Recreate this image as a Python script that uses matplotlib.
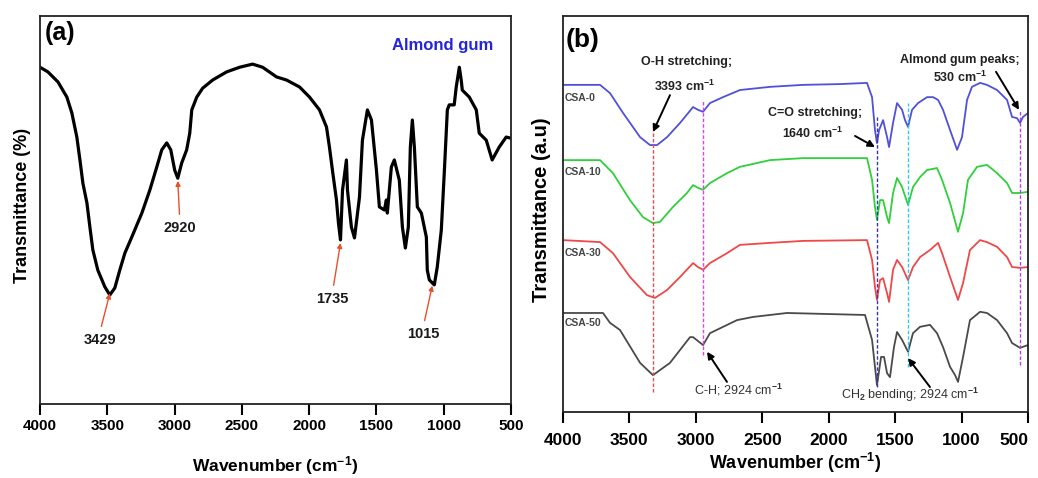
import matplotlib
matplotlib.use("Agg")
import matplotlib.pyplot as plt

plt.rcParams["font.family"] = ["Liberation Sans", "DejaVu Sans"]
plt.rcParams["mathtext.fontset"] = "custom"
plt.rcParams["mathtext.rm"] = "Liberation Sans"
plt.rcParams["mathtext.bf"] = "Liberation Sans:bold"
plt.rcParams["mathtext.it"] = "Liberation Sans:italic"
plt.rcParams["mathtext.default"] = "bf"

# ---- panel (a): almond gum spectrum ----
gum_wn = [4000, 3941, 3866, 3800, 3763, 3726, 3703, 3681, 3651, 3629, 3607, 3570,
          3518, 3481, 3444, 3407, 3369, 3318, 3243, 3184, 3132, 3095, 3058, 3028,
          2999, 2976, 2947, 2910, 2887, 2872, 2835, 2791, 2717, 2613, 2516, 2420,
          2346, 2242, 2168, 2071, 1997, 1923, 1871, 1849, 1827, 1797, 1782, 1767,
          1752, 1723, 1715, 1686, 1663, 1626, 1604, 1567, 1537, 1500, 1478, 1441,
          1426, 1419, 1389, 1367, 1330, 1307, 1285, 1263, 1248, 1233, 1218, 1196,
          1166, 1129, 1122, 1107, 1070, 1048, 1018, 996, 973, 959, 922, 907, 884,
          870, 862, 810, 758, 736, 684, 640, 588, 536, 499]
gum_t = [86.8, 85.6, 83.0, 79.1, 75.0, 68.8, 62.9, 56.9, 51.8, 45.6, 39.7, 34.5,
         30.2, 28.1, 29.9, 34.5, 38.9, 43.0, 49.2, 55.1, 61.1, 65.5, 67.3, 65.5,
         60.3, 58.2, 62.1, 65.5, 69.8, 75.8, 79.1, 81.4, 83.5, 85.6, 86.8, 87.6,
         86.8, 84.3, 83.5, 81.7, 79.1, 75.8, 71.4, 66.2, 60.3, 52.6, 46.6, 42.3,
         55.1, 62.9, 55.1, 45.6, 42.8, 53.3, 68.0, 75.8, 73.2, 60.3, 50.8, 50.0,
         52.6, 49.2, 61.1, 62.9, 57.7, 45.6, 40.2, 45.6, 66.2, 73.2, 66.2, 50.8,
         49.2, 43.0, 34.5, 32.0, 30.7, 35.3, 44.8, 59.5, 75.8, 77.1, 77.1, 81.7,
         86.8, 83.5, 80.9, 79.1, 75.8, 69.8, 68.0, 62.9, 66.2, 68.8, 68.5]

gum_peak_labels = ["3429", "2920", "1735", "1015"]
gum_peak_wn = [3481, 2976, 1767, 1085]
gum_peak_t = [28.5, 57.5, 41.5, 30.5]
gum_label_wn = [3555, 2961, 1827, 1152]
gum_label_t = [16.5, 45.4, 27.1, 18.0]

# ---- panel (b): composite films ----
csa0_wn = [4000, 3721, 3646, 3548, 3420, 3345, 3292, 3217, 3119, 3021, 2984, 2946,
           2894, 2796, 2668, 2442, 2194, 1915, 1712, 1674, 1652, 1637, 1621, 1591,
           1561, 1546, 1516, 1486, 1448, 1426, 1403, 1373, 1328, 1260, 1215, 1177,
           1140, 1087, 1034, 997, 959, 922, 861, 809, 733, 658, 620, 583, 560, 538, 500]
csa0_t = [82.6, 82.6, 80.5, 75.5, 69.4, 67.4, 67.4, 69.4, 73.0, 77.0, 76.3, 75.8,
          78.0, 79.5, 81.3, 82.1, 82.6, 82.8, 83.1, 79.5, 71.2, 67.9, 71.2, 73.7,
          69.4, 66.9, 73.0, 78.0, 76.3, 73.7, 72.0, 76.3, 78.0, 79.5, 79.5, 78.8,
          76.3, 71.2, 66.2, 69.4, 78.8, 82.1, 83.1, 82.6, 81.3, 78.8, 74.5, 74.2,
          73.0, 74.5, 75.5]

csa10_wn = [4000, 3721, 3624, 3496, 3398, 3323, 3270, 3172, 3067, 3021, 2984, 2946,
            2894, 2766, 2668, 2442, 2194, 1712, 1674, 1652, 1637, 1614, 1591, 1561,
            1546, 1516, 1486, 1448, 1403, 1366, 1313, 1260, 1185, 1147, 1087, 1027,
            989, 952, 884, 809, 733, 658, 620, 560, 500]
csa10_t = [63.6, 63.6, 60.3, 53.5, 49.2, 47.7, 48.0, 51.8, 55.3, 57.3, 56.6, 56.1,
           57.8, 60.3, 61.9, 63.6, 64.1, 64.1, 58.6, 51.8, 48.5, 53.5, 53.5, 49.2,
           47.7, 55.3, 59.1, 56.8, 52.3, 56.8, 59.3, 61.1, 61.6, 58.6, 52.8, 45.5,
           50.2, 58.6, 61.9, 62.4, 60.3, 57.8, 55.3, 55.3, 55.6]

csa30_wn = [4000, 3721, 3624, 3496, 3368, 3308, 3217, 3119, 3021, 2984, 2946, 2894,
            2766, 2668, 2442, 2194, 1712, 1674, 1652, 1637, 1614, 1591, 1561, 1546,
            1516, 1486, 1448, 1403, 1366, 1313, 1238, 1177, 1147, 1087, 1027, 989,
            937, 861, 809, 733, 658, 620, 560, 500]
csa30_t = [43.4, 42.9, 40.1, 34.1, 29.5, 28.8, 30.8, 34.1, 37.6, 36.6, 35.9, 37.6,
           40.1, 42.2, 42.7, 43.2, 43.4, 38.4, 31.6, 28.3, 33.3, 33.8, 30.0, 27.8,
           35.9, 38.4, 36.6, 33.3, 36.6, 39.1, 40.9, 42.7, 40.1, 34.1, 28.3, 32.6,
           40.9, 43.4, 42.9, 41.7, 39.1, 36.6, 36.4, 36.6]

csa50_wn = [4000, 3699, 3646, 3571, 3420, 3323, 3195, 3044, 3021, 2946, 2894, 2690,
            2570, 2314, 1727, 1674, 1652, 1637, 1606, 1584, 1561, 1539, 1509, 1486,
            1448, 1403, 1366, 1313, 1238, 1185, 1140, 1087, 1049, 1027, 989, 937,
            861, 809, 733, 658, 620, 560, 500]
csa50_t = [25.0, 25.0, 22.5, 20.7, 12.4, 9.3, 12.4, 18.9, 18.9, 16.9, 19.9, 23.2,
           24.0, 25.0, 24.5, 18.2, 11.4, 6.8, 13.9, 13.9, 9.8, 8.8, 16.4, 20.2,
           18.2, 15.2, 19.9, 21.5, 22.0, 19.9, 16.4, 11.4, 9.3, 7.6, 13.9, 23.2,
           25.3, 25.0, 23.2, 19.9, 17.4, 16.2, 16.9]

series_names = ["CSA-0", "CSA-10", "CSA-30", "CSA-50"]
series_colors = ["#5050d8", "#2fd03c", "#ee4848", "#4a4a4a"]
series_label_t = [79.3, 60.6, 40.1, 22.5]

# marker lines: position, top, bottom, colour
marker_wn = [3323, 2946, 1637, 1403, 560]
marker_top = [71.2, 78.8, 74.5, 78.0, 76.3]
marker_bottom = [5.1, 14.4, 6.3, 11.4, 11.9]
marker_colors = ["#e05050", "#e040e8", "#3535a8", "#30c8e8", "#b040e0"]

fig = plt.figure(figsize=(10.38, 4.78), dpi=100)
ax_a = fig.add_axes([0.0385, 0.1548, 0.4538, 0.8117])
ax_b = fig.add_axes([0.5424, 0.1381, 0.448, 0.8285])

for ax in (ax_a, ax_b):
    ax.set_xlim(4000, 500)
    ax.set_ylim(0, 100)
    ax.set_yticks([])
    ax.set_xticks([4000, 3500, 3000, 2500, 2000, 1500, 1000, 500])
    for sp in ax.spines.values():
        sp.set_linewidth(1.3)
        sp.set_color("#222222")

# panel (a)
ax_a.plot(gum_wn, gum_t, color="black", lw=2.3)
ax_a.tick_params(axis="x", direction="out", length=8, width=1.5, pad=3,
                 labelsize=11)
for lbl in ax_a.get_xticklabels():
    lbl.set_fontweight("bold")
ax_a.set_xlabel("Wavenumber (cm$^{-1}$)", fontsize=12.5, fontweight="bold")
ax_a.xaxis.set_label_coords(0.5, -0.128)
ax_a.set_ylabel("Transmittance (%)", fontsize=13, fontweight="bold")
ax_a.yaxis.set_label_coords(-0.02, 0.513)
ax_a.text(3963, 95.6, "(a)", fontsize=18, fontweight="bold", ha="left", va="center")
ax_a.text(1010, 92.5, "Almond gum", fontsize=12, fontweight="bold",
          color="#2424d8", ha="center", va="center")
for lab, px, pt, lx, lt in zip(gum_peak_labels, gum_peak_wn, gum_peak_t,
                               gum_label_wn, gum_label_t):
    ax_a.annotate("", xy=(px, pt), xytext=(lx + (px - lx) * 0.15, lt + 3.5),
                  arrowprops=dict(arrowstyle="-|>", color="#e8502a", lw=1.0,
                                  mutation_scale=7, shrinkA=0, shrinkB=0))
    ax_a.text(lx, lt, lab, fontsize=10.5, fontweight="bold", ha="center",
              va="center", color="#1a1a1a")

# panel (b)
for wn, t, c in zip([csa0_wn, csa10_wn, csa30_wn, csa50_wn],
                    [csa0_t, csa10_t, csa30_t, csa50_t], series_colors):
    ax_b.plot(wn, t, color=c, lw=1.3)
for name, lt in zip(series_names, series_label_t):
    ax_b.text(3985, lt, name, fontsize=7.5, fontweight="bold", color="#444444",
              ha="left", va="center")
for mw, top, bot, c in zip(marker_wn, marker_top, marker_bottom, marker_colors):
    ax_b.plot([mw, mw], [bot, top], color=c, lw=1.0, ls=(0, (2.5, 1.5)))

ax_b.tick_params(axis="x", direction="out", length=8, width=1.5, pad=7,
                 labelsize=12.5)
for lbl in ax_b.get_xticklabels():
    lbl.set_fontweight("bold")
ax_b.get_xticklabels()[-1].set_horizontalalignment("right")
ax_b.set_xlabel("Wavenumber (cm$^{-1}$)", fontsize=13, fontweight="bold")
ax_b.xaxis.set_label_coords(0.5, -0.098)
ax_b.set_ylabel("Transmittance (a.u)", fontsize=14.5, fontweight="bold")
ax_b.yaxis.set_label_coords(-0.026, 0.51)
ax_b.text(3977, 94.0, "(b)", fontsize=19, fontweight="bold", ha="left", va="center")

arrow_kw = dict(arrowstyle="-|>", color="black", lw=1.4, mutation_scale=10,
                shrinkA=0, shrinkB=0)
ax_b.text(3067, 88.4, "O-H stretching;", fontsize=9, fontweight="bold",
          ha="center", va="center", color="#222222")
ax_b.text(3082, 82.1, "3393 cm$^{-1}$", fontsize=9, fontweight="bold",
          ha="center", va="center", color="#222222")
ax_b.annotate("", xy=(3323, 70.7), xytext=(3195, 80.0), arrowprops=arrow_kw)

ax_b.text(2103, 75.5, "C=O stretching;", fontsize=9, fontweight="bold",
          ha="center", va="center", color="#222222")
ax_b.text(2118, 70.4, "1640 cm$^{-1}$", fontsize=9, fontweight="bold",
          ha="center", va="center", color="#222222")
ax_b.annotate("", xy=(1652, 66.9), xytext=(1802, 69.7), arrowprops=arrow_kw)

ax_b.text(1012, 88.9, "Almond gum peaks;", fontsize=9, fontweight="bold",
          ha="center", va="center", color="#222222")
ax_b.text(1012, 84.6, "530 cm$^{-1}$", fontsize=9, fontweight="bold",
          ha="center", va="center", color="#222222")
ax_b.annotate("", xy=(568, 76.3), xytext=(741, 85.9), arrowprops=arrow_kw)

ax_b.text(2683, 5.6, "C-H; 2924 cm$^{-1}$", fontsize=9, ha="center", va="center",
          color="#333333")
ax_b.annotate("", xy=(2916, 15.2), xytext=(2766, 7.6), arrowprops=arrow_kw)

ax_b.text(1388, 4.3, "CH$_2$ bending; 2924 cm$^{-1}$", fontsize=9, ha="center",
          va="center", color="#333333")
ax_b.annotate("", xy=(1403, 13.6), xytext=(1238, 6.3), arrowprops=arrow_kw)

fig.savefig("out.png", dpi=100)
